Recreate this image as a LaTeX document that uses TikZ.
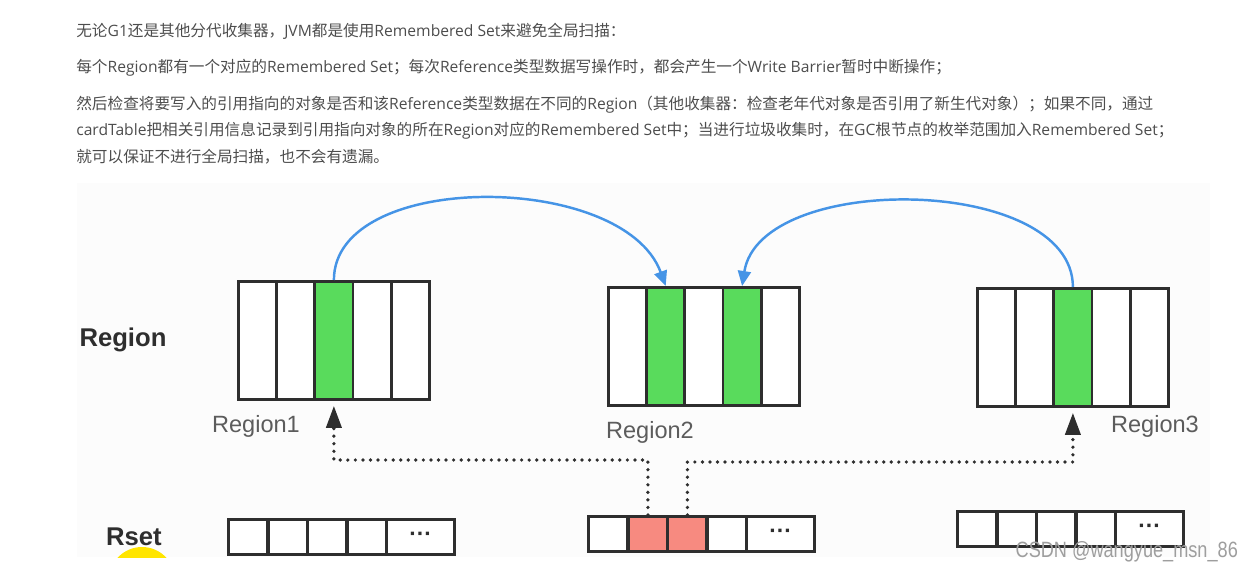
\documentclass[tikz,border=0pt]{standalone}
\usepackage{fontspec}
\newfontfamily\zhfont{Noto Sans CJK SC}
\newfontfamily\enfont{Open Sans}
\newfontfamily\labfont{Liberation Sans}
\usetikzlibrary{positioning,arrows.meta,calc}
\definecolor{txtgray}{HTML}{4D4D4D}
\definecolor{cellgreen}{HTML}{59DB5C}
\definecolor{cellred}{HTML}{F78A80}
\definecolor{refblue}{HTML}{4594E6}
\definecolor{boxline}{HTML}{2E2E2E}
\definecolor{labgray}{HTML}{5C5C5C}
\definecolor{bggray}{HTML}{FCFCFC}
\definecolor{markyellow}{HTML}{FFE500}
\newcommand{\en}[1]{{\enfont #1}}

\tikzset{
  para/.style={anchor=west,inner sep=0pt,text=txtgray,font=\zhfont\fontsize{8.9pt}{10pt}\selectfont},
  regcell/.style={draw=boxline,line width=1.6pt,minimum width=0.764cm,minimum height=2.36cm,inner sep=0pt,anchor=north west},
  setcell/.style={draw=boxline,line width=1.9pt,minimum width=0.79cm,minimum height=0.70cm,inner sep=0pt,anchor=north west},
  bigcell/.style={setcell,minimum width=1.36cm,text=boxline,font=\labfont\bfseries\fontsize{13pt}{14pt}\selectfont},
  rname/.style={text=labgray,font=\labfont\fontsize{13.4pt}{15pt}\selectfont},
  rowname/.style={text=black!82,font=\labfont\bfseries\fontsize{14.6pt}{16pt}\selectfont},
  blueref/.style={refblue,line width=1.4pt,-{Triangle[length=0.3cm,width=0.26cm]}},
  dotref/.style={boxline,line width=2.1pt,line cap=round,dash pattern=on 0pt off 4.3pt,-{Triangle[length=0.44cm,width=0.3cm]}},
}

\begin{document}
\begin{tikzpicture}[x=0.02cm,y=-0.02cm]
  \useasboundingbox (0,0) rectangle (1259,572);
  % text above the figure
  \node[para] (p1) at (76,31) {无论\en{G1}还是其他分代收集器，\en{JVM}都是使用\en{Remembered Set}来避免全局扫描：};
  \node[para] (p2) at (76,68) {每个\en{Region}都有一个对应的\en{Remembered Set}；每次\en{Reference}类型数据写操作时，都会产生一个\en{Write Barrier}暂时中断操作；};
  \node[para] (p3) at (76,105) {然后检查将要写入的引用指向的对象是否和该\en{Reference}类型数据在不同的\en{Region}（其他收集器：检查老年代对象是否引用了新生代对象）；如果不同，通过};
  \node[para] (p4) at (76,131) {\en{cardTable}把相关引用信息记录到引用指向对象的所在\en{Region}对应的\en{Remembered Set}中；当进行垃圾收集时，在\en{GC}根节点的枚举范围加入\en{Remembered Set}；};
  \node[para] (p5) at (76,157) {就可以保证不进行全局扫描，也不会有遗漏。};

  % figure
  \fill[bggray] (77,183) rectangle (1210,557);
  \begin{scope}
    \clip (77,183) rectangle (1210,557);
    \fill[markyellow] (142,580) circle[radius=0.66cm];
  \end{scope}
  \node[rowname] (row-reg) at (123,340) {Region};
  \node[rowname] (row-set) at (134,537) {Rset};

  % regions
  \foreach \i/\c in {1/white,2/white,3/cellgreen,4/white,5/white}
    \node[regcell,fill=\c] (ra-\i) at ({237+(\i-1)*38.2},280) {};
  \foreach \i/\c in {1/white,2/cellgreen,3/white,4/cellgreen,5/white}
    \node[regcell,fill=\c] (rb-\i) at ({607+(\i-1)*38.2},286) {};
  \foreach \i/\c in {1/white,2/white,3/cellgreen,4/white,5/white}
    \node[regcell,fill=\c] (rc-\i) at ({976+(\i-1)*38.2},287) {};
  \node[rname] (lab-a) at (256,426) {Region1};
  \node[rname] (lab-b) at (650,432) {Region2};
  \node[rname] (lab-c) at (1155,426) {Region3};

  % remembered sets
  \foreach \i/\c in {1/white,2/white,3/white,4/white}
    \node[setcell,fill=\c] (sa-\i) at ({227+(\i-1)*39.5},518) {};
  \node[bigcell,fill=white] (sa-5) at (385,518) {···};
  \foreach \i/\c in {1/white,2/cellred,3/cellred,4/white}
    \node[setcell,fill=\c] (sb-\i) at ({587+(\i-1)*39.5},515) {};
  \node[bigcell,fill=white] (sb-5) at (745,515) {···};
  \foreach \i/\c in {1/white,2/white,3/white,4/white}
    \node[setcell,fill=\c] (sc-\i) at ({956+(\i-1)*39.5},510) {};
  \node[bigcell,fill=white] (sc-5) at (1114,510) {···};

  % references between regions
  \draw[blueref] (ra-3.north) .. controls +(0,-110) and +(-42,-115) .. (rb-2.north);
  \draw[blueref] (rc-3.north) .. controls +(0,-112) and +(18,-115) .. (rb-4.north);

  % card table entries
  \coordinate (hop-a) at (0,460);
  \coordinate (hop-b) at (0,462);
  \draw[dotref] (sb-2.north) -- (sb-2.north |- hop-a) -- (ra-3.south |- hop-a) -- ([yshift=-0.1cm]ra-3.south);
  \draw[dotref] (sb-3.north) -- (sb-3.north |- hop-b) -- (rc-3.south |- hop-b) -- ([yshift=-0.1cm]rc-3.south);

  \node[anchor=east,text=black!38,font=\labfont\fontsize{12.6pt}{14pt}\selectfont,xscale=0.82,transform shape] (mark) at (1243,552) {CSDN @wangyue\_msn\_86};
\end{tikzpicture}
\end{document}
